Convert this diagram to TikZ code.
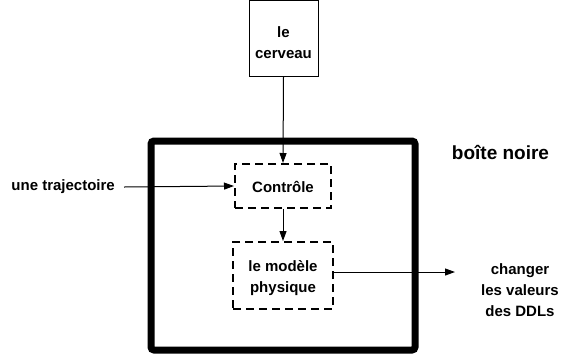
\documentclass[tikz,border=0pt]{standalone}
\usepackage{fontspec}
\setmainfont{Liberation Sans}
\usetikzlibrary{arrows.meta}
\begin{document}
\begin{tikzpicture}[x=1pt,y=-1pt,
  txt/.style={font=\bfseries\fontsize{15}{21}\selectfont, align=center, inner sep=0pt},
  bigtxt/.style={font=\bfseries\fontsize{19}{23}\selectfont, inner sep=0pt},
  solidbox/.style={draw, line width=1pt, inner sep=0pt},
  dashbox/.style={draw, line width=2pt, dash pattern=on 8pt off 5pt, inner sep=0pt},
  conn/.style={line width=1pt, -{Triangle[length=10pt,width=7pt]}}]
\useasboundingbox (0,0) rectangle (561,360);
\draw[line width=7pt, rounded corners=3pt] (151,141) rectangle (415,350);
\node[solidbox, minimum width=69pt, minimum height=76pt] (cerv) at (283.5,38) {};
\node[txt] at (283.5,43) {le\\cerveau};
\node[dashbox, minimum width=96pt, minimum height=44pt] (ctrl) at (283,186) {};
\node[txt] at (283,187) {Contrôle};
\node[dashbox, minimum width=100pt, minimum height=67pt] (mod) at (283,275.5) {};
\node[txt] at (283,278) {le modèle\\physique};
\node[txt, anchor=east] (traj) at (115,187) {une trajectoire};
\node[txt] (chg) at (520,290) {changer\\les valeurs\\des DDLs};
\node[bigtxt] (boite) at (500.5,152) {boîte noire};
\coordinate (trajend) at (124,187);
\coordinate (outend) at (455,272);
\draw[conn] (cerv.south) -- (ctrl.north);
\draw[conn] (trajend) -- (ctrl.west);
\draw[conn] (ctrl.south) -- (mod.north);
\draw[conn] (mod.east |- outend) -- (outend);
\end{tikzpicture}
\end{document}
